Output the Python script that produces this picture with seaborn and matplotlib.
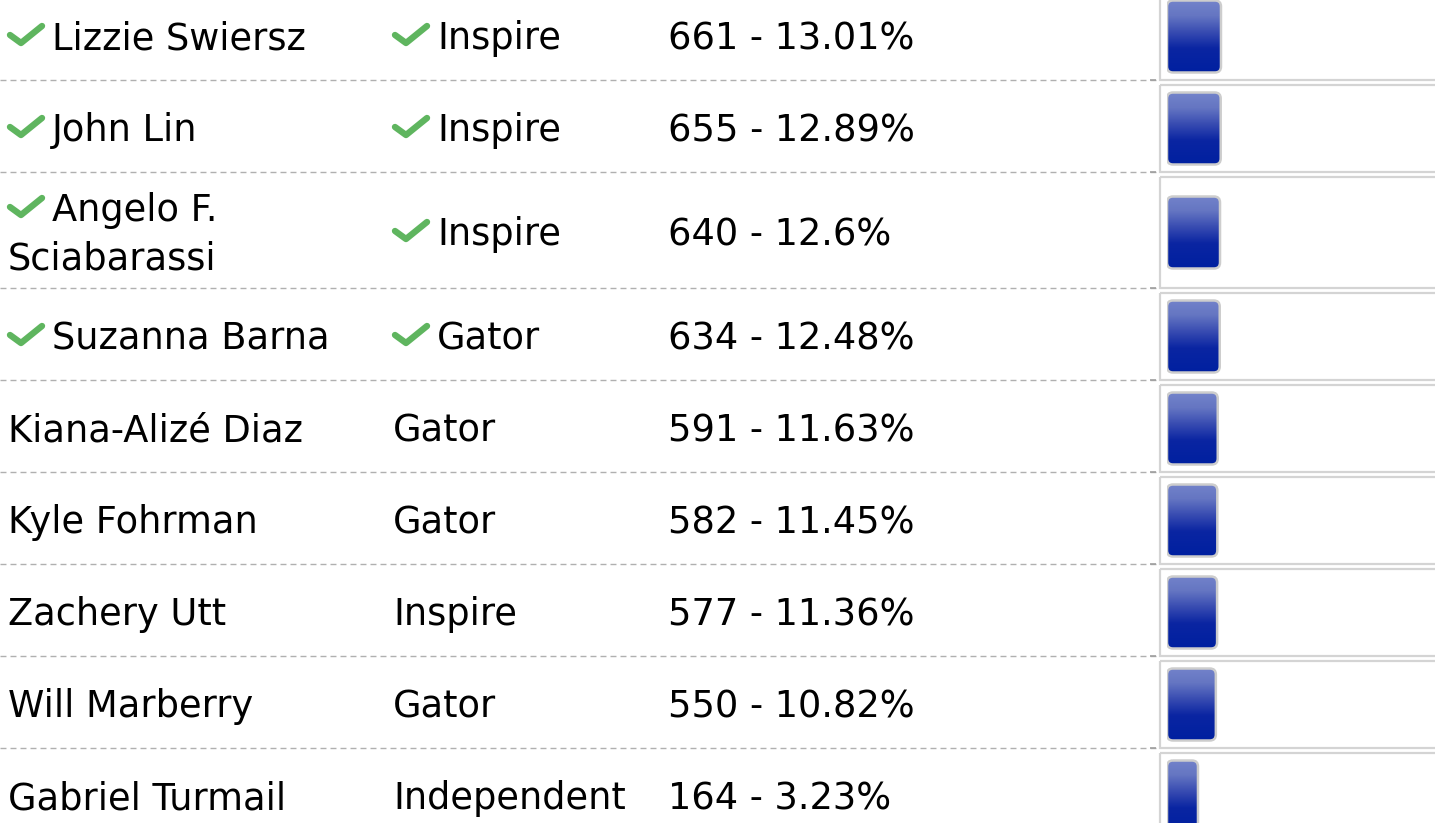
import numpy as np
import pandas as pd
import matplotlib
matplotlib.use("Agg")
import matplotlib.pyplot as plt
import seaborn as sns
from matplotlib.patches import FancyBboxPatch, Rectangle
from matplotlib.colors import LinearSegmentedColormap

## election results
names = ["Lizzie Swiersz", "John Lin", "Angelo F.\nSciabarassi", "Suzanna Barna",
         "Kiana-Alizé Diaz", "Kyle Fohrman", "Zachery Utt", "Will Marberry",
         "Gabriel Turmail"]
parties = ["Inspire", "Inspire", "Inspire", "Gator", "Gator", "Gator",
           "Inspire", "Gator", "Independent"]
votes = [661, 655, 640, 634, 591, 582, 577, 550, 164]
percents = [13.01, 12.89, 12.6, 12.48, 11.63, 11.45, 11.36, 10.82, 3.23]
elected = [True, True, True, True, False, False, False, False, False]

sns.set_theme(style="white")
plt.rcParams['font.family'] = ['DejaVu Sans']

W, H = 1435, 823
fig = plt.figure(figsize=(W / 100, H / 100), dpi=100)
ax = fig.add_axes([0, 0, 1, 1])
ax.set_xlim(0, W)
ax.set_ylim(H, 0)
ax.axis('off')

## layout of the rows (pixels)
row_h = [92, 92, 116, 92, 92, 92, 92, 92, 92]
edges = -12 + np.concatenate([[0], np.cumsum(row_h)])
centers = (edges[:-1] + edges[1:]) / 2
cell_centers = (edges[:-1] + 5 + edges[1:]) / 2

fs = 26.5
green = '#5fb55f'

def check(x, b):
    ax.plot([x + 2, x + 13, x + 34], [b - 14, b - 6, b - 23], color=green,
            lw=4.6, solid_capstyle='round', solid_joinstyle='round')

for i in range(len(names)):
    b = centers[i] + 15
    lines = names[i].split("\n")
    nx = 52 if elected[i] else 8
    px = 437 if elected[i] else 393
    for k, ln in enumerate(lines):
        lb = b + (k - (len(lines) - 1) / 2) * 48
        if k == 0 and elected[i]:
            check(8, lb)
        ax.text(nx if k == 0 else 8, lb, ln, fontsize=fs, va='baseline', ha='left', color='black')
    if elected[i]:
        check(393, b)
    ax.text(px, b, parties[i], fontsize=fs, va='baseline', ha='left', color='black')
    ax.text(668, b, f"{votes[i]} - {percents[i]:g}%", fontsize=fs, va='baseline',
            ha='left', color='black')
    # cell around the bar
    ax.add_patch(Rectangle((1160, edges[i] + 5), 320, row_h[i] - 5, fill=False,
                           ec='#d4d4d4', lw=1.6))

ax.hlines(edges[1:-1], 0, 1157, colors='#b0b0b0', linestyles=(0, (4.3, 2.9)), lw=1.0)
ax.hlines(edges[1:-1], 1150, 1156, colors='#a0a0a0', lw=1.2)

## bars
bx0 = 1167
px_per_vote = 0.0463
pad_votes = 505
bax = fig.add_axes([bx0 / W, 0, (W - bx0) / W, 1])
df = pd.DataFrame({"pos": cell_centers, "length": np.array(votes) + pad_votes})
sns.barplot(data=df, x="length", y="pos", orient="h", native_scale=True,
            width=72 / 92, color='#0020a0', ax=bax)
xmax = (W - bx0) / px_per_vote
bax.set_xlim(0, xmax)
bax.set_ylim(H, 0)
bax.axis('off')

cmap = LinearSegmentedColormap.from_list("bar", [(0, '#7282ca'), (0.2, '#6576c2'),
                                                 (0.45, '#3448b0'), (0.66, '#0a25a2'),
                                                 (1, '#0020a0')])
grad = np.linspace(0, 1, 100).reshape(-1, 1)
r = 6 / px_per_vote
for p in list(bax.patches):
    x, y, w, h = p.get_x(), p.get_y(), p.get_width(), p.get_height()
    p.remove()
    box = FancyBboxPatch((x, y), w, h, boxstyle=f"round,pad=0,rounding_size={r}",
                         mutation_aspect=px_per_vote, fc='none', ec='#cdcdcd', lw=1.8, zorder=3)
    bax.add_patch(box)
    im = bax.imshow(grad, extent=(x, x + w, y + h, y), aspect='auto', cmap=cmap,
                    zorder=2, interpolation='bilinear')
    im.set_clip_path(box)
bax.set_xlim(0, xmax)
bax.set_ylim(H, 0)

fig.savefig("out.png", dpi=100)
